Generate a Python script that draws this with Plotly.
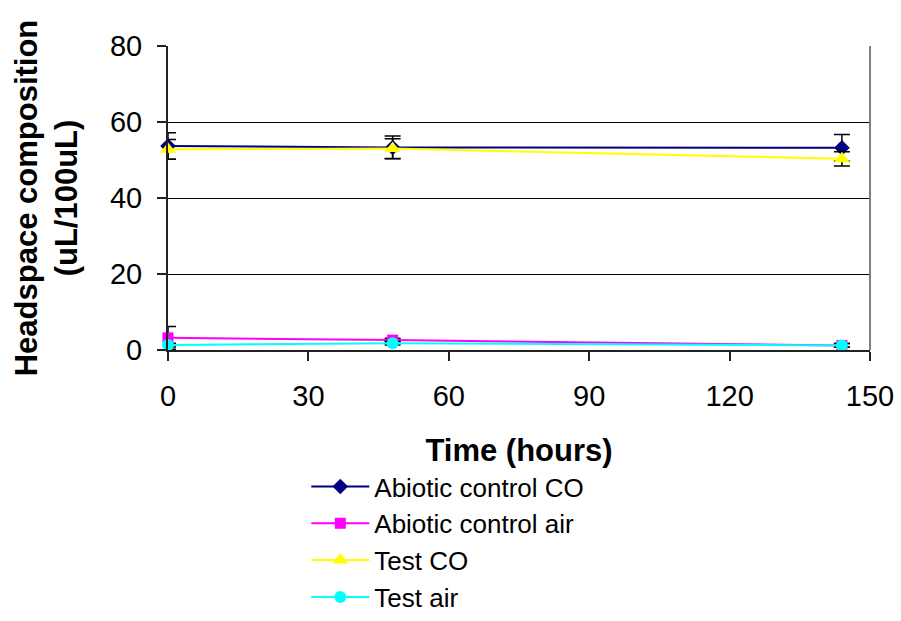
import plotly.graph_objects as go

time_h = [0, 48, 144]
abiotic_co = [53.7, 53.3, 53.2]
abiotic_co_err = [3.5, 3.0, 3.5]
abiotic_air = [3.2, 2.6, 1.2]
abiotic_air_err = [3.0, 0.5, 0.5]
test_co = [52.8, 53.0, 50.3]
test_co_err = [2.6, 2.6, 1.9]
test_air = [1.3, 1.8, 1.2]
test_air_err = [0.5, 0.5, 0.5]

names = ["Abiotic control CO", "Abiotic control air", "Test CO", "Test air"]
series = [abiotic_co, abiotic_air, test_co, test_air]
errors = [abiotic_co_err, abiotic_air_err, test_co_err, test_air_err]
colors = ["#000080", "#FF00FF", "#FFFF00", "#00FFFF"]
symbols = ["diamond", "square", "triangle-up", "circle"]
sizes = [12, 11, 14, 12]

fig = go.Figure()
for n, s, e, c, sym, sz in zip(names, series, errors, colors, symbols, sizes):
    fig.add_trace(go.Scatter(
        x=time_h, y=s, name=n, mode="lines+markers",
        line=dict(color=c, width=2),
        marker=dict(color=c, symbol=sym, size=sz),
        error_y=dict(type="data", array=e, visible=True, color="black",
                     thickness=1.5, width=8),
        cliponaxis=False,
    ))

fig.update_layout(
    width=901, height=621,
    paper_bgcolor="white", plot_bgcolor="white",
    margin=dict(l=168, r=31, t=46, b=271, autoexpand=False),
    font=dict(family="Arial, Liberation Sans, sans-serif", color="black", size=29),
    showlegend=True,
    legend=dict(x=0.197, y=-0.372, xanchor="left", yanchor="top",
                font=dict(size=26), itemwidth=58, tracegroupgap=0,
                bgcolor="rgba(0,0,0,0)"),
    xaxis=dict(range=[0, 150], tickvals=[0, 30, 60, 90, 120, 150],
               showline=True, linecolor="#222222", linewidth=2,
               ticks="outside", ticklen=9, tickcolor="#222222", tickwidth=1.5,
               showgrid=False, zeroline=False,
               tickfont=dict(size=29), ticklabelstandoff=10,
               title=dict(text="<b>Time (hours)</b>", font=dict(size=31), standoff=29)),
    yaxis=dict(range=[0, 80], tickvals=[0, 20, 40, 60, 80],
               showline=True, linecolor="#222222", linewidth=2,
               ticks="outside", ticklen=9, tickcolor="#222222", tickwidth=1.5,
               showgrid=True, gridcolor="black", gridwidth=1, zeroline=False,
               tickfont=dict(size=29), ticklabelstandoff=9,
               title=dict(text="<b>Headspace composition<br>(uL/100uL)</b>",
                          font=dict(size=31), standoff=23)),
    shapes=[dict(type="line", xref="paper", yref="paper", x0=1, x1=1, y0=0, y1=1,
                 line=dict(color="#808080", width=2))],
)

fig.write_html("out.html", config={"displayModeBar": False},
               post_script="document.body.style.margin='0px';")
